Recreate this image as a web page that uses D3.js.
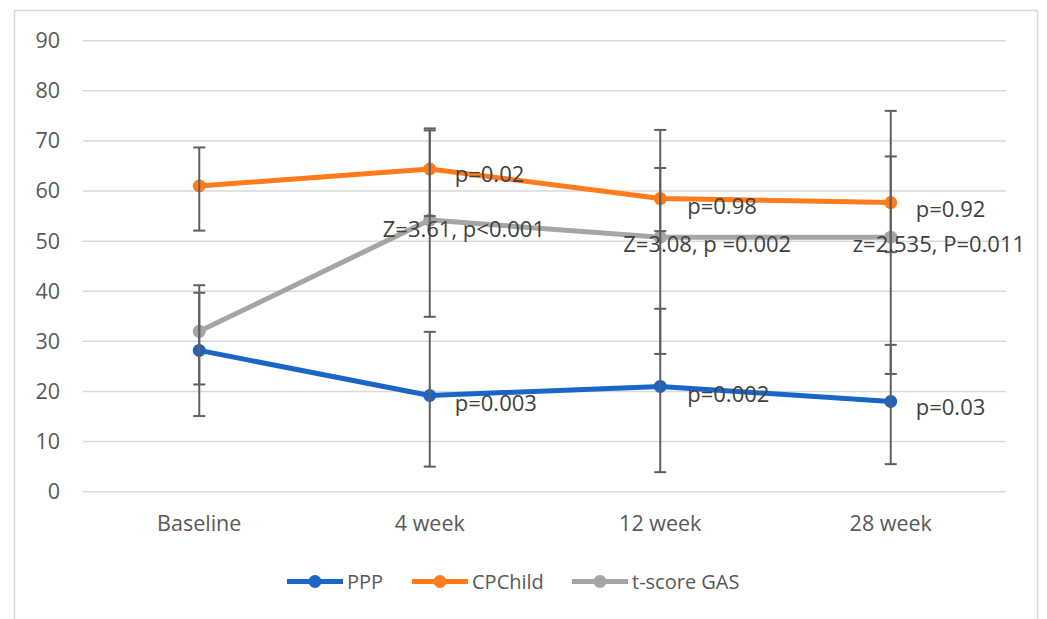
<!DOCTYPE html>
<html>
<head>
<meta charset="utf-8">
<script src="https://cdn.jsdelivr.net/npm/d3@7"></script>
<style>
  body { margin: 0; background: #fff; }
  text { font-family: "Open Sans", sans-serif; }
</style>
</head>
<body>
<svg id="chart" width="1047" height="619"></svg>
<script>
const width = 1047;
const height = 619;

// Data
const categories = ["Baseline", "4 week", "12 week", "28 week"];
const seriesNames = ["PPP", "CPChild", "t-score GAS"];

const pppMean = [28.2, 19.2, 21.0, 18.0];
const pppLow = [15.1, 5.0, 3.9, 5.5];
const pppHigh = [41.2, 31.9, 36.5, 29.3];
const pppLabels = [null, "p=0.003", "p=0.002", "p=0.03"];

const cpMean = [61.0, 64.4, 58.5, 57.7];
const cpLow = [52.1, 55.0, 52.0, 47.8];
const cpHigh = [68.7, 72.1, 64.6, 66.9];
const cpLabels = [null, "p=0.02", "p=0.98", "p=0.92"];

const gasMean = [32.0, 54.2, 50.8, 50.8];
const gasLow = [21.4, 34.9, 27.5, 23.5];
const gasHigh = [39.7, 72.5, 72.2, 76.0];
const gasLabels = [null, "Z=3.61, p<0.001", "Z=3.08, p =0.002", "z=2.535, P=0.011"];

const yTicks = [0, 10, 20, 30, 40, 50, 60, 70, 80, 90];

const colors = ["#1a66c6", "#ff7b1c", "#a5a5a5"];

// label placement (dx, dy from point)
const labelOffsets = [
    [null, [25, 7], [27, 7], [25, 4]],
    [null, [25, 4], [27, 6], [25, 5]],
    [null, [-47, 8], [-37, 6], [-38, 6]]
];

const series = [
    {name: seriesNames[0], mean: pppMean, low: pppLow, high: pppHigh, labels: pppLabels},
    {name: seriesNames[1], mean: cpMean, low: cpLow, high: cpHigh, labels: cpLabels},
    {name: seriesNames[2], mean: gasMean, low: gasLow, high: gasHigh, labels: gasLabels}
];

const margin = {left: 84, right: 41, top: 40.7, bottom: 127.3};

const svg = d3.select("#chart");

// outer frame
svg.append("rect")
    .attr("x", 14.5)
    .attr("y", 10.5)
    .attr("width", 1023)
    .attr("height", 640)
    .attr("fill", "none")
    .attr("stroke", "#d9d9d9")
    .attr("stroke-width", 1.5);

const x = d3.scaleBand()
    .domain(categories)
    .range([margin.left, width - margin.right]);

const y = d3.scaleLinear()
    .domain([0, 90])
    .range([height - margin.bottom, margin.top]);

const cx = c => x(c) + x.bandwidth() / 2;

// gridlines
svg.append("g")
    .selectAll("line")
    .data(yTicks)
    .enter()
    .append("line")
    .attr("x1", margin.left - 1)
    .attr("x2", width - margin.right)
    .attr("y1", d => y(d))
    .attr("y2", d => y(d))
    .attr("stroke", "#d9d9d9")
    .attr("stroke-width", 1.5);

// y axis labels
const yAxis = svg.append("g")
    .attr("transform", `translate(${margin.left - 24},0)`)
    .call(d3.axisLeft(y).tickValues(yTicks).tickSize(0).tickPadding(0));
yAxis.select(".domain").remove();
yAxis.selectAll("text")
    .attr("fill", "#595959")
    .attr("font-size", "21.5px")
    .attr("font-family", "'Open Sans', sans-serif");

// x axis labels
const xAxis = svg.append("g")
    .attr("transform", `translate(0,${y(0) + 24})`)
    .call(d3.axisBottom(x).tickSize(0).tickPadding(0));
xAxis.select(".domain").remove();
xAxis.selectAll("text")
    .attr("fill", "#595959")
    .attr("font-size", "21.5px")
    .attr("font-family", "'Open Sans', sans-serif");

const line = d3.line()
    .x((d, i) => cx(categories[i]))
    .y(d => y(d));

// lines and markers
series.forEach((s, k) => {
    svg.append("path")
        .datum(s.mean)
        .attr("d", line)
        .attr("fill", "none")
        .attr("stroke", colors[k])
        .attr("stroke-width", 5)
        .attr("stroke-linejoin", "round");

    svg.append("g")
        .selectAll("circle")
        .data(s.mean)
        .enter()
        .append("circle")
        .attr("cx", (d, i) => cx(categories[i]))
        .attr("cy", d => y(d))
        .attr("r", 6.5)
        .attr("fill", colors[k]);
});

// error bars
series.forEach(s => {
    const g = svg.append("g")
        .attr("stroke", "#5f5f5f")
        .attr("stroke-width", 2);
    categories.forEach((c, i) => {
        const px = cx(c);
        g.append("line")
            .attr("x1", px).attr("x2", px)
            .attr("y1", y(s.low[i])).attr("y2", y(s.high[i]));
        [s.low[i], s.high[i]].forEach(v => {
            g.append("line")
                .attr("x1", px - 6).attr("x2", px + 6)
                .attr("y1", y(v)).attr("y2", y(v));
        });
    });
});

// data labels
series.forEach((s, k) => {
    s.labels.forEach((t, i) => {
        if (!t) return;
        const off = labelOffsets[k][i];
        svg.append("text")
            .attr("x", cx(categories[i]) + off[0])
            .attr("y", y(s.mean[i]) + off[1])
            .attr("dominant-baseline", "central")
            .attr("fill", "#404040")
            .attr("font-size", "22px")
            .text(t);
    });
});

// legend
const legendItems = [
    {x: 287, name: seriesNames[0]},
    {x: 412, name: seriesNames[1]},
    {x: 572, name: seriesNames[2]}
];
const legendY = 581.5;
legendItems.forEach((d, k) => {
    const lg = svg.append("g");
    lg.append("line")
        .attr("x1", d.x).attr("x2", d.x + 56)
        .attr("y1", legendY).attr("y2", legendY)
        .attr("stroke", colors[k])
        .attr("stroke-width", 5);
    lg.append("circle")
        .attr("cx", d.x + 28)
        .attr("cy", legendY)
        .attr("r", 6.5)
        .attr("fill", colors[k]);
    lg.append("text")
        .attr("x", d.x + 60)
        .attr("y", legendY)
        .attr("dominant-baseline", "central")
        .attr("fill", "#595959")
        .attr("font-size", "20px")
        .text(d.name);
});
</script>
</body>
</html>
